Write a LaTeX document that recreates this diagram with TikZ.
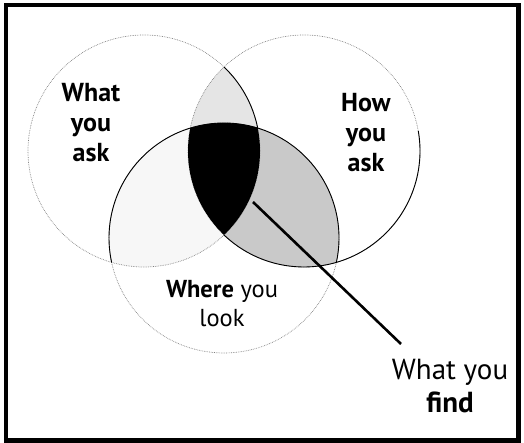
\documentclass[tikz,border=0pt]{standalone}
\usepackage{fontspec}
\setmainfont{PT Sans}
\usepackage{tikz}
\definecolor{lite}{gray}{0.9}
\definecolor{mid}{gray}{0.79}
\definecolor{pale}{gray}{0.97}

\begin{document}
\begin{tikzpicture}[x=1pt,y=1pt,
  ring/.style={gray, densely dotted, line width=0.7pt},
  rim/.style={black, line width=0.9pt},
  lbl/.style={align=center, inner sep=0pt, font=\fontsize{26}{30}\selectfont}]
  \useasboundingbox (0,0) rectangle (524,443);
  % frame
  \draw[line width=4.5pt] (6,2.5) rectangle (518.5,438);
  % centres of the three sets
  \coordinate (ask) at (144,292);
  \coordinate (how) at (304,292);
  \coordinate (look) at (224,205);
  % shaded overlaps
  \begin{scope}
    \clip (ask) circle (116pt);
    \fill[lite] (how) circle (116pt);
  \end{scope}
  \begin{scope}
    \clip (look) circle (115pt);
    \fill[mid] (how) circle (116pt);
  \end{scope}
  \begin{scope}
    \clip (look) circle (115pt);
    \fill[pale] (ask) circle (116pt);
  \end{scope}
  % outlines
  \draw[ring] (ask) circle (116pt);
  \draw[ring] (how) circle (116pt);
  \draw[ring] (look) circle (115pt);
  \draw[rim] (look) ++(-12.3:115pt) arc[start angle=-12.3, end angle=192.3, radius=115pt];
  \draw[rim] (ask) ++(46.4:116pt) arc[start angle=46.4, end angle=11.4, radius=116pt];
  \draw[rim] (how) ++(226.4:116pt) arc[start angle=226.4, end angle=370, radius=116pt];
  % all three
  \begin{scope}
    \clip (ask) circle (116pt);
    \clip (how) circle (116pt);
    \fill[black] (look) circle (115pt);
  \end{scope}
  % labels
  \node[lbl] (whatask) at (91,320) {\textbf{What}\\\textbf{you}\\\textbf{ask}};
  \node[lbl] (howask) at (366,310) {\textbf{How}\\\textbf{you}\\\textbf{ask}};
  \node[lbl, font=\fontsize{24.5}{29}\selectfont] (wherelook) at (222,139.5) {\textbf{Where} you\\look};
  \node[lbl, font=\fontsize{29}{33}\selectfont] (whatfind) at (450,57) {What you\\\textbf{find}};
  % pointer
  \coordinate (core) at (253,241);
  \coordinate (tail) at (401,99);
  \draw[line width=2.6pt] (core) -- (tail);
\end{tikzpicture}
\end{document}
